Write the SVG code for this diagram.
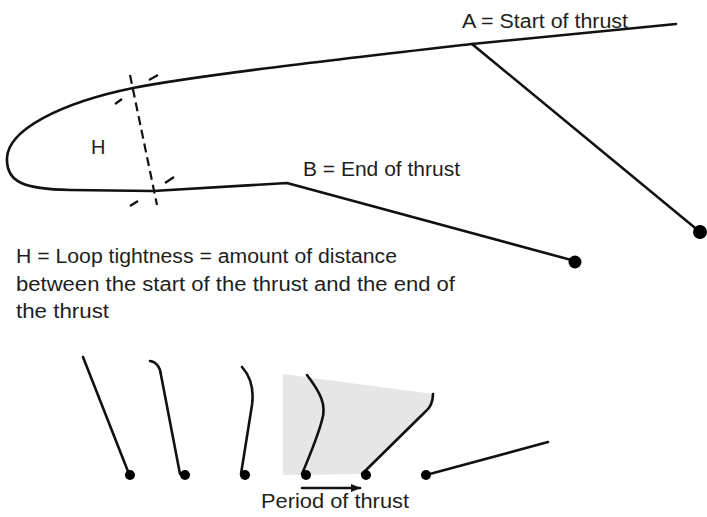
<svg xmlns="http://www.w3.org/2000/svg" width="707" height="517" viewBox="0 0 707 517">
<style>
.ln{fill:none;stroke:#111;stroke-width:2.6;stroke-linecap:round;stroke-linejoin:round}
.dash{fill:none;stroke:#111;stroke-width:2.2;stroke-dasharray:9,5}
.tk{stroke:#111;stroke-width:2.2;stroke-linecap:butt}
.dot{fill:#000}
.t{font-family:"Liberation Sans","Open Sans",sans-serif;font-size:20px;fill:#1e1e1e}
</style>
<defs>
<marker id="ah" markerWidth="10" markerHeight="8" refX="9" refY="4" orient="auto" markerUnits="userSpaceOnUse">
<path d="M0,0 L10,4 L0,8 Z" fill="#111"/>
</marker>
</defs>
<rect width="707" height="517" fill="#fff"/>
<g id="loop">
<path class="ln" d="M676,24 L472,44 C 350,58 200,75 133,88 C 60,103 8,130 7,158 C 6,183 25,189 70,190 L153,191 L287,183 L575,261"/>
<path class="ln" d="M472,44 L700,232"/>
<circle class="dot" cx="700" cy="232" r="7"/>
<circle class="dot" cx="575" cy="262" r="6.5"/>
</g>
<g id="h-measure">
<path class="dash" d="M130,75 L157,205"/>
<line class="tk" x1="115" y1="104" x2="122" y2="99"/>
<line class="tk" x1="149" y1="80" x2="158" y2="75"/>
<line class="tk" x1="130" y1="206" x2="138" y2="201"/>
<line class="tk" x1="165" y1="183" x2="174" y2="177"/>
<text class="t" x="91" y="154">H</text>
</g>
<g id="labels">
<text class="t" x="462" y="28" textLength="166" lengthAdjust="spacingAndGlyphs">A = Start of thrust</text>
<text class="t" x="303" y="176" textLength="157" lengthAdjust="spacingAndGlyphs">B = End of thrust</text>
<text class="t" x="16" y="263" textLength="381" lengthAdjust="spacingAndGlyphs">H = Loop tightness = amount of distance</text>
<text class="t" x="16" y="291" textLength="439" lengthAdjust="spacingAndGlyphs">between the start of the thrust and the end of</text>
<text class="t" x="16" y="318" textLength="93" lengthAdjust="spacingAndGlyphs">the thrust</text>
</g>
<g id="sequence">
<path d="M283,374 L433,394 C 432,402 429,408 425,412 L362,474 L283,475 Z" fill="#e6e6e6"/>
<path class="ln" d="M83,357 L129,474"/>
<circle class="dot" cx="130" cy="475" r="5"/>
<path class="ln" d="M150,361 C 156,362 160,366 161,375 L180,474"/>
<circle class="dot" cx="185" cy="475" r="5"/>
<path class="ln" d="M242,367 C 251,377 254,390 252,405 L241,474"/>
<circle class="dot" cx="245" cy="475" r="5"/>
<path class="ln" d="M307,375 C 320,392 327,405 322,420 C 318,436 310,455 302,474"/>
<circle class="dot" cx="306" cy="475" r="5"/>
<path class="ln" d="M433,394 C 433,402 430,408 425,412 L362,474"/>
<circle class="dot" cx="366" cy="475" r="5"/>
<path class="ln" d="M426,475 L548,442"/>
<circle class="dot" cx="426" cy="475" r="5"/>
<line class="ln" x1="302" y1="488" x2="360" y2="488" marker-end="url(#ah)"/>
<text class="t" x="261" y="508" textLength="148" lengthAdjust="spacingAndGlyphs">Period of thrust</text>
</g>
</svg>
